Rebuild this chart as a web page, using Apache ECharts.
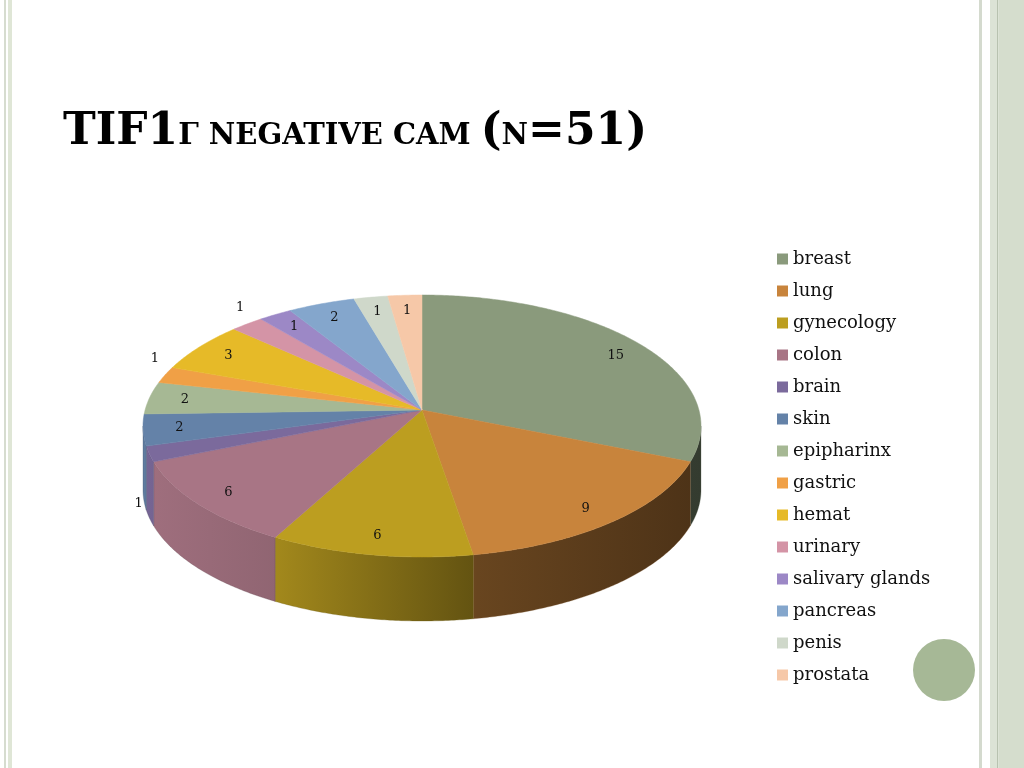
<!DOCTYPE html>
<html>
<head>
<meta charset="utf-8">
<script src="https://cdn.jsdelivr.net/npm/echarts@6/dist/echarts.min.js"></script>
<style>
  html, body { margin: 0; padding: 0; background: #fff; }
  #main { width: 1024px; height: 768px; }
</style>
</head>
<body>
<div id="main"></div>
<script>
// slice data, clockwise from 12 o'clock
var categories = ['breast', 'lung', 'gynecology', 'colon', 'brain', 'skin', 'epipharinx',
    'gastric', 'hemat', 'urinary', 'salivary glands', 'pancreas', 'penis', 'prostata'];
var values = [15, 9, 6, 6, 1, 2, 2, 1, 3, 1, 1, 2, 1, 1];
var colors = ['#8a9a7c', '#c8843c', '#bc9e20', '#a87585', '#7b6a9c', '#6482a8', '#a6b894',
    '#f0a046', '#e6ba28', '#d494a6', '#9c88c6', '#84a6cc', '#cfd8ca', '#f6c8a8'];
var outsideLabels = ['brain', 'gastric', 'urinary'];

var total = values.reduce(function (a, b) { return a + b; }, 0);
var cum = [0];
values.forEach(function (v, i) { cum.push(cum[i] + v); });

// fake 3d pie geometry
var cx = 422, cy = 426, rx = 279, ry = 131, apexY = 410, depth = 64;

function shade(hex, k) {
    var n = parseInt(hex.slice(1), 16);
    var r = Math.round(((n >> 16) & 255) * k);
    var g = Math.round(((n >> 8) & 255) * k);
    var b = Math.round((n & 255) * k);
    return 'rgb(' + r + ',' + g + ',' + b + ')';
}

function pt(t, dy) {
    return [cx + rx * Math.sin(t), cy - ry * Math.cos(t) + (dy || 0)];
}

function arc(a, b, dy) {
    var pts = [];
    var steps = Math.max(2, Math.ceil((b - a) / 0.01));
    for (var k = 0; k <= steps; k++) {
        pts.push(pt(a + (b - a) * k / steps, dy));
    }
    return pts;
}

function makeRender(i) {
    return function (params, api) {
        var a = cum[i] / total * Math.PI * 2;
        var b = cum[i + 1] / total * Math.PI * 2;
        var color = colors[i];
        var children = [];

        // side wall, only the front half shows
        var wa = Math.max(a, Math.PI / 2), wb = Math.min(b, Math.PI * 1.5);
        if (wb > wa) {
            var top = arc(wa, wb, 0);
            var bottom = arc(wa, wb, depth).reverse();
            children.push({
                type: 'polygon',
                shape: { points: top.concat(bottom) },
                style: {
                    fill: {
                        type: 'linear', x: cx - rx, y: 0, x2: cx + rx, y2: 0, global: true,
                        colorStops: [
                            { offset: 0, color: shade(color, 0.95) },
                            { offset: 0.24, color: shade(color, 0.86) },
                            { offset: 0.6, color: shade(color, 0.52) },
                            { offset: 1, color: shade(color, 0.38) }
                        ]
                    },
                    stroke: shade(color, 0.6),
                    lineWidth: 0.3
                }
            });
        }

        // top face
        var face = [[cx, apexY]].concat(arc(a, b, 0));
        children.push({
            type: 'polygon',
            shape: { points: face },
            style: { fill: color, stroke: color, lineWidth: 0.5 }
        });

        // value label
        var m = (a + b) / 2;
        var e = pt(m, 0);
        var lx, ly;
        if (outsideLabels.indexOf(categories[i]) >= 0) {
            lx = cx + (e[0] - cx) * 1.04;
            ly = e[1] + (Math.cos(m) < 0 ? depth * 0.78 : -16);
        } else {
            lx = cx + (e[0] - cx) * 0.87;
            ly = apexY + (e[1] - apexY) * 0.87;
        }
        children.push({
            type: 'text',
            z2: 100,
            style: {
                x: lx,
                y: ly,
                text: String(api.value(0)),
                fill: '#111',
                font: '13px "DejaVu Serif", serif',
                align: 'center',
                verticalAlign: 'middle'
            }
        });

        return { type: 'group', children: children };
    };
}

var series = categories.map(function (name, i) {
    return {
        type: 'custom',
        name: name,
        coordinateSystem: 'none',
        itemStyle: { color: colors[i] },
        data: [[values[i]]],
        renderItem: makeRender(i),
        silent: true
    };
});

var myChart = echarts.init(document.getElementById('main'));

var option = {
    animation: false,
    backgroundColor: '#fff',
    title: {
        left: 58,
        top: 104,
        text: '{b|TIF1}{s|Γ NEGATIVE CAM }{b|(}{s|N}{b|=51)}',
        textStyle: {
            rich: {
                b: { fontFamily: '"DejaVu Serif", serif', fontWeight: 'bold', fontSize: 44, lineHeight: 46, verticalAlign: 'bottom', color: '#000' },
                s: { fontFamily: '"DejaVu Serif", serif', fontWeight: 'bold', fontSize: 29, lineHeight: 30, padding: [0, 0, 4, 0], verticalAlign: 'bottom', color: '#000' }
            }
        }
    },
    legend: {
        orient: 'vertical',
        left: 772,
        top: 244,
        icon: 'rect',
        itemWidth: 11,
        itemHeight: 11,
        itemGap: 12,
        selectedMode: false,
        textStyle: { fontFamily: '"DejaVu Serif", serif', fontSize: 18, lineHeight: 20, color: '#111' },
        data: categories
    },
    graphic: [
        { type: 'rect', shape: { x: 4, y: 0, width: 2, height: 768 }, style: { fill: '#d6dccf' } },
        { type: 'rect', shape: { x: 8, y: 0, width: 4, height: 768 }, style: { fill: '#dfe6d6' } },
        { type: 'rect', shape: { x: 979, y: 0, width: 3, height: 768 }, style: { fill: '#d4dace' } },
        { type: 'rect', shape: { x: 990, y: 0, width: 9, height: 768 }, style: { fill: '#dce3d6' } },
        { type: 'rect', shape: { x: 997, y: 0, width: 1, height: 768 }, style: { fill: '#b8c2b0' } },
        { type: 'rect', shape: { x: 999, y: 0, width: 25, height: 768 }, style: { fill: '#d5ddcd' } },
        { type: 'circle', shape: { cx: 944, cy: 670, r: 31 }, style: { fill: '#a6b896' } }
    ],
    series: series
};

myChart.setOption(option);
</script>
</body>
</html>
